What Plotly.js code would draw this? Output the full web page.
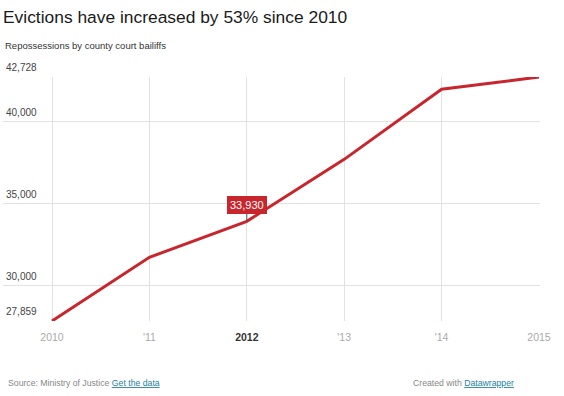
<!DOCTYPE html>
<html>
<head>
<meta charset="utf-8">
<script src="https://cdn.plot.ly/plotly-3.0.1.min.js"></script>
<style>html,body{margin:0;padding:0;background:#fff;}#chart{width:564px;height:396px;}</style>
</head>
<body>
<div id="chart"></div>
<script>
var years = [2010, 2011, 2012, 2013, 2014, 2015];
var repossessions = [27859, 31740, 33930, 37710, 41980, 42728];
var xTickLabels = ['2010', "'11", '<b><span style="color:#333">2012</span></b>', "'13", "'14", '2015'];
var yTickVals = [27859, 30000, 35000, 40000, 42728];
var yTickLabels = ['27,859', '30,000', '35,000', '40,000', '42,728'];
var highlightYear = 2012;
var highlightLabel = '33,930';

var W = 564, H = 396, L = 3, R = 24, T = 77, B = 75;
var pw = W - L - R, ph = H - T - B;
function px(x) { return (x - L) / pw; }
function py(y) { return (H - B - y) / ph; }

var font = 'Arial, "Liberation Sans", Helvetica, sans-serif';

var annotations = yTickVals.map(function (v, i) {
  return {
    xref: 'paper', yref: 'y', x: px(4), y: v, text: yTickLabels[i],
    xanchor: 'left', yanchor: 'bottom', yshift: 2, showarrow: false,
    font: {family: font, size: 10, color: '#444'}
  };
});

annotations.push({
  xref: 'x', yref: 'y', x: highlightYear, y: repossessions[years.indexOf(highlightYear)],
  text: highlightLabel, showarrow: true, arrowhead: 0, arrowwidth: 1, arrowcolor: '#555',
  ax: 0, ay: -16, bgcolor: '#c8262c', bordercolor: '#c8262c', borderpad: 2,
  font: {family: font, size: 11, color: '#ffffff'}
});

annotations.push({
  xref: 'paper', yref: 'paper', x: px(3), y: py(45), xanchor: 'left', yanchor: 'middle',
  text: 'Repossessions by county court bailiffs', showarrow: false,
  font: {family: font, size: 9.5, color: '#333'}
});

annotations.push({
  xref: 'paper', yref: 'paper', x: px(6), y: py(383), xanchor: 'left', yanchor: 'middle',
  text: 'Source: Ministry of Justice <span style="color:#1d81a2"><u>Get the data</u></span>', showarrow: false,
  font: {family: font, size: 8.7, color: '#888'}
});

annotations.push({
  xref: 'paper', yref: 'paper', x: px(516), y: py(383), xanchor: 'right', yanchor: 'middle',
  text: 'Created with <span style="color:#1d81a2"><u>Datawrapper</u></span>', showarrow: false,
  font: {family: font, size: 8.7, color: '#888'}
});

var x0 = 2010 - (52 - L) / ((539 - 52) / 5);
var x1 = 2015 + (540 - 539) / ((539 - 52) / 5);

var data = [{
  x: years, y: repossessions, type: 'scatter', mode: 'lines',
  line: {color: '#c8262c', width: 3}, hoverinfo: 'skip'
}];

var layout = {
  width: W, height: H,
  margin: {l: L, r: R, t: T, b: B, pad: 0},
  paper_bgcolor: '#fff', plot_bgcolor: '#fff',
  showlegend: false,
  title: {
    text: 'Evictions have increased by 53% since 2010',
    xref: 'container', yref: 'container', x: 3 / W, xanchor: 'left',
    y: 1 - 17 / H, yanchor: 'middle',
    font: {family: font, size: 17.4, color: '#1a1a1a'}
  },
  xaxis: {
    range: [x0, x1], tickvals: years, ticktext: xTickLabels,
    showgrid: true, gridcolor: '#e2e2e2', gridwidth: 1,
    zeroline: false, showline: false, ticks: '', ticklabelstandoff: 8,
    tickfont: {family: font, size: 10.5, color: '#aaa'}, fixedrange: true
  },
  yaxis: {
    range: [27859, 42728], tickvals: yTickVals, showticklabels: false,
    showgrid: true, gridcolor: '#e2e2e2', gridwidth: 1,
    zeroline: false, showline: false, ticks: '', fixedrange: true
  },
  annotations: annotations
};

Plotly.newPlot('chart', data, layout, {displayModeBar: false, staticPlot: true});
</script>
</body>
</html>
